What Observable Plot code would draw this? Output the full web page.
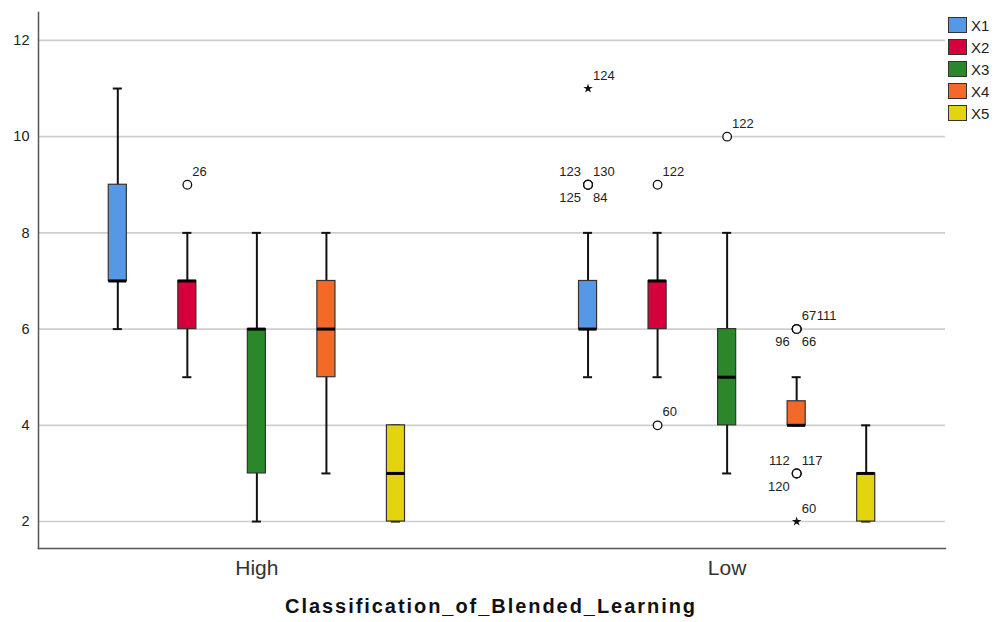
<!DOCTYPE html>
<html>
<head>
<meta charset="utf-8">
<script src="https://cdn.jsdelivr.net/npm/d3@7"></script>
<script src="https://cdn.jsdelivr.net/npm/@observablehq/plot@0.6"></script>
<style>
  body { margin: 0; background: #fff; font-family: "Liberation Sans", Arial, sans-serif; }
  #wrap { position: relative; width: 994px; height: 622px; }
  #back, #front { position: absolute; left: 0; top: 0; }
  #legend { position: absolute; left: 948px; top: 14px; }
  .lg-row { display: flex; align-items: center; height: 22px; }
  .lg-sw { width: 17px; height: 14px; border: 1.5px solid #333; box-sizing: content-box; margin-right: 4px; }
  .lg-tx { font-size: 15px; color: #222; }
  #caption { position: absolute; left: 0; width: 982px; top: 595px; text-align: center;
    font-weight: bold; font-size: 20px; letter-spacing: 1.95px; color: #111; }
</style>
</head>
<body>
<div id="wrap">
  <div id="back"></div>
  <div id="front"></div>
  <div id="legend"></div>
  <div id="caption">Classification_of_Blended_Learning</div>
</div>
<script>
// ---- data ----
const groups = ["High", "Low"];
const series = ["X1", "X2", "X3", "X4", "X5"];
const seriesColors = ["#5598e5", "#d6003a", "#2a882a", "#f2692a", "#e2d40f"];
const yTicks = [2, 4, 6, 8, 10, 12];

// box statistics per group (rows) and series (columns)
const whiskerMin = [[6, 5, 2, 3, 2], [5, 5, 3, 4, 2]];
const quart1     = [[7, 6, 3, 5, 2], [6, 6, 4, 4, 2]];
const medians    = [[7, 7, 6, 6, 3], [6, 7, 5, 4, 3]];
const quart3     = [[9, 7, 6, 7, 4], [7, 7, 6, 4.5, 3]];
const whiskerMax = [[11, 8, 8, 8, 4], [8, 8, 8, 5, 4]];

// outlying cases
const outlierGroup  = ["High","Low","Low","Low","Low","Low","Low","Low","Low","Low","Low","Low","Low","Low","Low","Low","Low"];
const outlierSeries = ["X2","X1","X1","X1","X1","X1","X2","X2","X3","X4","X4","X4","X4","X4","X4","X4","X4"];
const outlierValue  = [9, 11, 9, 9, 9, 9, 9, 4, 10, 6, 6, 6, 6, 3, 3, 3, 2];
const outlierCase   = ["26","124","123","130","125","84","122","60","122","67","111","96","66","112","117","120","60"];
const outlierKind   = ["o","*","o","o","o","o","o","o","o","o","o","o","o","o","o","o","*"];

// ---- layout of case labels (style, not data) ----
const labelSlot = ["ne","ne","nw","ne","sw","se","ne","ne","ne","ne","ne2","sw","se","nw","ne","sw","ne"];
const slotStyle = {
  ne:  {dx: 5,  dy: -13, textAnchor: "start"},
  ne2: {dx: 20, dy: -13, textAnchor: "start"},
  nw:  {dx: -7, dy: -13, textAnchor: "end"},
  sw:  {dx: -7, dy: 13,  textAnchor: "end"},
  se:  {dx: 5,  dy: 13,  textAnchor: "start"}
};

// ---- tables built from the arrays ----
const boxes = [];
groups.forEach((g, gi) => series.forEach((s, si) => boxes.push({
  group: g, series: s,
  lo: whiskerMin[gi][si], q1: quart1[gi][si], med: medians[gi][si],
  q3: quart3[gi][si], hi: whiskerMax[gi][si]
})));
const outliers = outlierCase.map((c, i) => ({
  group: outlierGroup[i], series: outlierSeries[i], value: outlierValue[i],
  id: c, kind: outlierKind[i], slot: labelSlot[i]
}));

const FONT = "'Liberation Sans', Arial, sans-serif";
const W = 994, H = 588;
const M = {marginLeft: 38, marginRight: 49, marginTop: 12, marginBottom: 40};
const yScale = {domain: [1.44, 12.58]};

// background plot: grid, y axis, axis lines
const back = Plot.plot({
  width: W, height: H, ...M,
  style: {fontFamily: FONT, background: "#fff"},
  y: {...yScale, axis: null},
  marks: [
    Plot.ruleY(yTicks, {stroke: "#cfcfcf", strokeWidth: 1.6}),
    Plot.axisY(yTicks, {tickSize: 0, tickPadding: 9, fontSize: 14.5, fill: "#222", label: null}),
    Plot.frame({anchor: "left", stroke: "#555", strokeWidth: 1.5}),
    Plot.frame({anchor: "bottom", stroke: "#555", strokeWidth: 1.5})
  ]
});
document.getElementById("back").appendChild(back);

// foreground plot: faceted boxes
const labelMarks = Object.entries(slotStyle).map(([slot, st]) =>
  Plot.text(outliers.filter(d => d.slot === slot), {
    fx: "group", x: "series", y: "value", text: "id",
    dx: st.dx, dy: st.dy, textAnchor: st.textAnchor,
    fontSize: 13, fill: "#222"
  })
);

const front = Plot.plot({
  width: W, height: H, ...M,
  style: {fontFamily: FONT, background: "transparent", overflow: "visible"},
  fx: {domain: groups, paddingInner: 0.2606, paddingOuter: 0.0947, round: false, label: null},
  x: {domain: series, paddingInner: 0.74, paddingOuter: 0.37, round: false, axis: null},
  y: {...yScale, axis: null},
  color: {domain: series, range: seriesColors},
  marks: [
    Plot.axisFx({anchor: "bottom", tickSize: 0, tickPadding: 12, fontSize: 21, label: null, fill: "#333"}),
    Plot.ruleX(boxes, {fx: "group", x: "series", y1: "lo", y2: "hi", stroke: "#111", strokeWidth: 2}),
    Plot.tickY(boxes, {fx: "group", x: "series", y: "lo", stroke: "#111", strokeWidth: 2, insetLeft: 4.5, insetRight: 4.5}),
    Plot.tickY(boxes, {fx: "group", x: "series", y: "hi", stroke: "#111", strokeWidth: 2, insetLeft: 4.5, insetRight: 4.5}),
    Plot.barY(boxes, {fx: "group", x: "series", y1: "q1", y2: "q3", fill: "series", stroke: "#333", strokeWidth: 1.2}),
    Plot.tickY(boxes, {fx: "group", x: "series", y: "med", stroke: "#000", strokeWidth: 3}),
    Plot.dot(outliers.filter(d => d.kind === "o"), {fx: "group", x: "series", y: "value",
      r: 4.3, stroke: "#111", strokeWidth: 1.3, fill: "#fff"}),
    Plot.dot(outliers.filter(d => d.kind === "*"), {fx: "group", x: "series", y: "value",
      symbol: "star", r: 3, fill: "#111", stroke: "none"}),
    ...labelMarks
  ]
});
document.getElementById("front").appendChild(front);

// legend
const lg = document.getElementById("legend");
series.forEach((s, i) => {
  const row = document.createElement("div");
  row.className = "lg-row";
  const sw = document.createElement("div");
  sw.className = "lg-sw";
  sw.style.background = seriesColors[i];
  const tx = document.createElement("span");
  tx.className = "lg-tx";
  tx.textContent = s;
  row.appendChild(sw); row.appendChild(tx);
  lg.appendChild(row);
});
</script>
</body>
</html>
